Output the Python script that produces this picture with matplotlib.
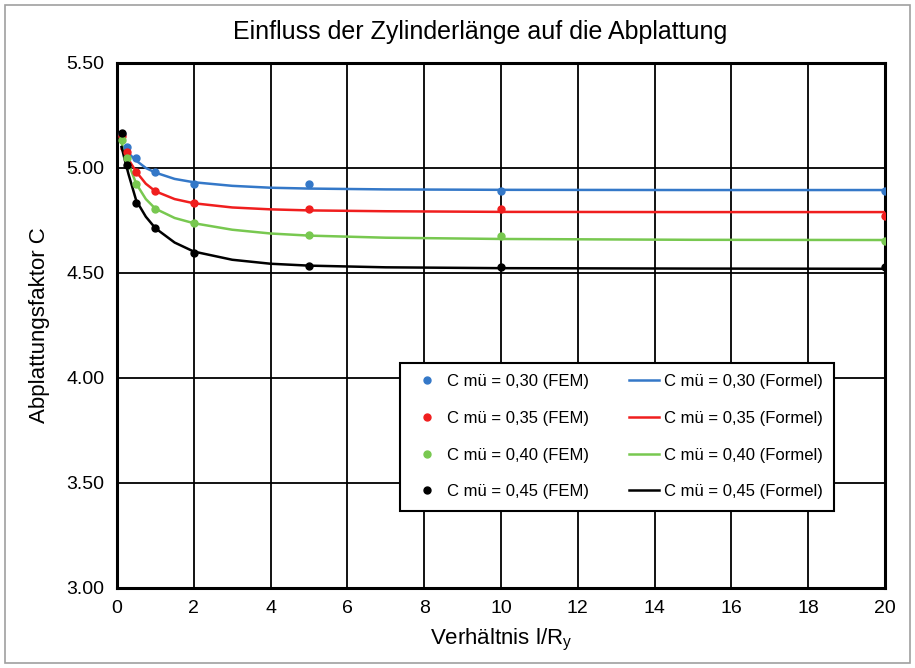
import matplotlib.pyplot as plt
from matplotlib.patches import Rectangle

plt.rcParams["font.family"] = ["Liberation Sans", "DejaVu Sans"]

# FEM results (points)
x_fem = [0.125, 0.25, 0.5, 1, 2, 5, 10, 20]
c030_fem = [5.16, 5.10, 5.046, 4.982, 4.925, 4.925, 4.892, 4.892]
c035_fem = [5.15, 5.078, 4.982, 4.889, 4.832, 4.805, 4.803, 4.771]
c040_fem = [5.133, 5.046, 4.922, 4.805, 4.737, 4.681, 4.676, 4.654]
c045_fem = [5.168, 5.012, 4.832, 4.713, 4.593, 4.533, 4.530, 4.530]

# Formula curves
x_formel = [0.12, 0.2, 0.3, 0.5, 0.75, 1, 1.5, 2, 3, 4, 5, 7, 10, 15, 20]
c030_formel = [5.10, 5.09, 5.07, 5.035, 5.00, 4.978, 4.948, 4.932, 4.915, 4.906, 4.902, 4.898, 4.896, 4.895, 4.895]
c035_formel = [5.09, 5.07, 5.04, 4.982, 4.925, 4.889, 4.852, 4.832, 4.812, 4.803, 4.798, 4.794, 4.791, 4.790, 4.790]
c040_formel = [5.12, 5.07, 5.02, 4.925, 4.852, 4.806, 4.762, 4.737, 4.706, 4.688, 4.678, 4.668, 4.662, 4.658, 4.657]
c045_formel = [5.10, 5.04, 4.97, 4.845, 4.768, 4.713, 4.645, 4.602, 4.563, 4.544, 4.535, 4.527, 4.523, 4.521, 4.520]

labels_mu = ["0,30", "0,35", "0,40", "0,45"]
colors = ["#3478C8", "#F01E1E", "#78C850", "#000000"]

x_ticks = list(range(0, 21, 2))
y_ticks = [3.00, 3.50, 4.00, 4.50, 5.00, 5.50]

fig = plt.figure(figsize=(9.15, 6.68), dpi=100)
fig.patches.append(Rectangle((0.006, 0.007), 0.988, 0.986, transform=fig.transFigure,
                             fill=False, edgecolor="#A0A0A0", lw=1.2))
ax = fig.add_axes([0.1279, 0.1198, 0.8393, 0.7859])

fem_sets = [c030_fem, c035_fem, c040_fem, c045_fem]
formel_sets = [c030_formel, c035_formel, c040_formel, c045_formel]

fem_handles = []
formel_handles = []
for mu, col, yf, yc in zip(labels_mu, colors, fem_sets, formel_sets):
    (lf,) = ax.plot(x_formel, yc, color=col, lw=1.8, zorder=3,
                    label=f"C mü = {mu} (Formel)")
    (pf,) = ax.plot(x_fem, yf, ls="none", marker="o", ms=5, color=col, zorder=4,
                    label=f"C mü = {mu} (FEM)")
    fem_handles.append(pf)
    formel_handles.append(lf)

ax.set_xlim(0, 20)
ax.set_ylim(3.0, 5.5)
ax.set_xticks(x_ticks)
ax.set_yticks(y_ticks)
ax.set_yticklabels([f"{v:.2f}" for v in y_ticks])
ax.tick_params(length=0, labelsize=14, pad=9)
ax.grid(True, color="black", lw=1.3)
ax.set_axisbelow(True)
for s in ax.spines.values():
    s.set_linewidth(2.2)

fig.text(0.5246, 0.952, "Einfluss der Zylinderlänge auf die Abplattung",
         fontsize=18, ha="center", va="center")
ax.set_xlabel(r"Verhältnis l/R$_\mathregular{y}$", fontsize=16, labelpad=7)
ax.set_ylabel("Abplattungsfaktor C", fontsize=16, labelpad=12)

leg = ax.legend(fem_handles + formel_handles,
                [h.get_label() for h in fem_handles + formel_handles],
                ncol=2, loc="lower left", bbox_to_anchor=(0.3685, 0.1467),
                borderaxespad=0, fontsize=12, labelspacing=1.3, columnspacing=2.4,
                handlelength=1.8, handletextpad=0.3, borderpad=0.7,
                fancybox=False, framealpha=1, edgecolor="black")
leg.get_frame().set_linewidth(1.5)

fig.savefig("out.png", dpi=100)
